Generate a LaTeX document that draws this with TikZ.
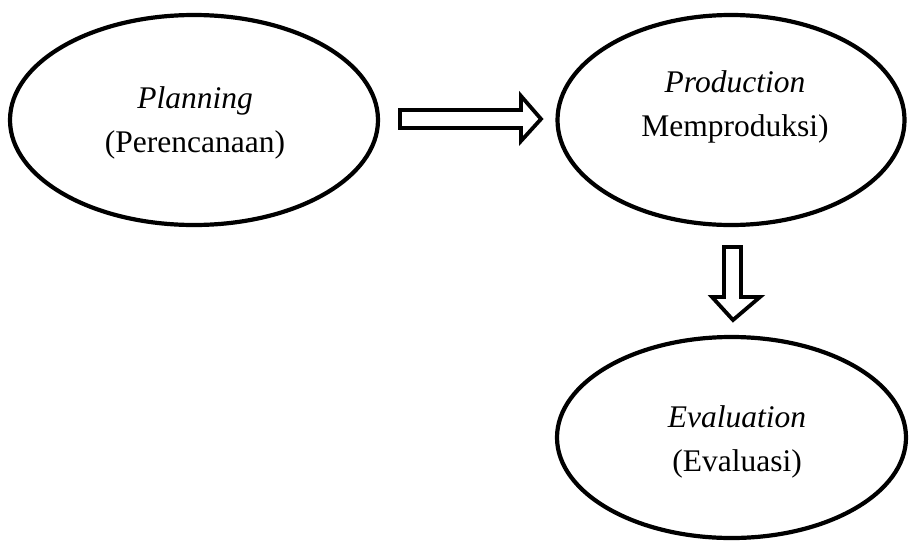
\documentclass[tikz,border=0pt]{standalone}
\usepackage{fontspec}
\setmainfont{Liberation Serif}
\usetikzlibrary{shapes.geometric}
\begin{document}
\begin{tikzpicture}[x=1pt,y=-1pt,
  oval/.style={draw=black,line width=4.2pt,ellipse,inner sep=0pt},
  lbl/.style={align=center,inner sep=0pt,font=\fontsize{31.5}{44}\selectfont},
  blockarrow/.style={draw=black,fill=white,line width=3.8pt,line join=miter}]
\useasboundingbox (0,0) rectangle (909,541);
\node[oval,minimum width=368pt,minimum height=210pt] (plan) at (194,120) {};
\node[oval,minimum width=347pt,minimum height=210pt] (prod) at (731,120) {};
\node[oval,minimum width=349pt,minimum height=201pt] (eval) at (731.5,437.5) {};
\node[lbl] (plantext) at (195,122.5) {\textit{Planning}\\(Perencanaan)};
\node[lbl] (prodtext) at (735,107) {\textit{Production}\\Memproduksi)};
\node[lbl] (evaltext) at (737,442) {\textit{Evaluation}\\(Evaluasi)};
% right block arrow
\draw[blockarrow] (400,110) -- (521,110) -- (521,96) -- (541,119) -- (521,141) -- (521,128) -- (400,128) -- cycle;
% down block arrow
\draw[blockarrow] (724,247) -- (741,247) -- (741,297) -- (760,297) -- (733,320) -- (712,297) -- (724,297) -- cycle;
\end{tikzpicture}
\end{document}
